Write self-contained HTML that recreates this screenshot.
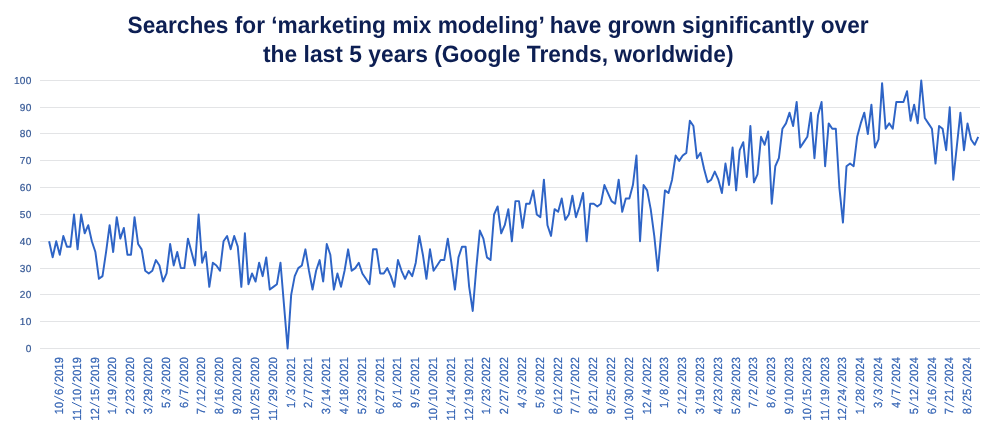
<!DOCTYPE html>
<html><head><meta charset="utf-8"><title>Chart</title>
<style>
html,body{margin:0;padding:0;background:#fff;}
body{width:1006px;height:447px;overflow:hidden;font-family:"Liberation Sans",sans-serif;}
svg{display:block;will-change:transform;}
 svg text{font-family:"Liberation Sans",sans-serif;text-rendering:geometricPrecision;}
</style></head><body>
<svg width="1006" height="447" viewBox="0 0 1006 447">
<rect width="1006" height="447" fill="#ffffff"/>
<g font-weight="bold" font-size="23.5" fill="#0d1f53">
<text x="127.6" y="32.9" textLength="741.0" lengthAdjust="spacingAndGlyphs">Searches for ‘marketing mix modeling’ have grown significantly over</text>
<text x="263.0" y="62.4" textLength="470.5" lengthAdjust="spacingAndGlyphs">the last 5 years (Google Trends, worldwide)</text>
</g>
<g fill="#e3e4e6" shape-rendering="crispEdges">
<rect x="40.0" y="348" width="940.0" height="1"/>
<rect x="40.0" y="321" width="940.0" height="1"/>
<rect x="40.0" y="294" width="940.0" height="1"/>
<rect x="40.0" y="268" width="940.0" height="1"/>
<rect x="40.0" y="241" width="940.0" height="1"/>
<rect x="40.0" y="214" width="940.0" height="1"/>
<rect x="40.0" y="187" width="940.0" height="1"/>
<rect x="40.0" y="160" width="940.0" height="1"/>
<rect x="40.0" y="133" width="940.0" height="1"/>
<rect x="40.0" y="107" width="940.0" height="1"/>
<rect x="40.0" y="80" width="940.0" height="1"/>
</g>
<g font-size="10.1" fill="#365996" text-anchor="end" letter-spacing="0.25" stroke="#365996" stroke-width="0.2">
<text x="31.5" y="352.00">0</text>
<text x="31.5" y="325.00">10</text>
<text x="31.5" y="298.00">20</text>
<text x="31.5" y="272.00">30</text>
<text x="31.5" y="245.00">40</text>
<text x="31.5" y="218.00">50</text>
<text x="31.5" y="191.00">60</text>
<text x="31.5" y="164.00">70</text>
<text x="31.5" y="137.00">80</text>
<text x="31.5" y="111.00">90</text>
<text x="31.5" y="84.00">100</text>
</g>
<polyline points="49.10,241.30 52.66,257.38 56.22,241.30 59.78,254.70 63.34,235.94 66.90,246.66 70.46,246.66 74.02,214.50 77.58,249.34 81.14,214.50 84.70,233.26 88.26,225.22 91.82,241.30 95.38,252.02 98.94,278.82 102.50,276.14 106.06,252.02 109.62,225.22 113.18,252.02 116.74,217.18 120.30,238.62 123.86,227.90 127.42,254.70 130.98,254.70 134.54,217.18 138.09,243.98 141.65,249.34 145.21,270.78 148.77,273.46 152.33,270.78 155.89,260.06 159.45,265.42 163.01,281.50 166.57,273.46 170.13,243.98 173.69,265.42 177.25,252.02 180.81,268.10 184.37,268.10 187.93,238.62 191.49,252.02 195.05,265.42 198.61,214.50 202.17,262.74 205.73,252.02 209.29,286.86 212.85,262.74 216.41,265.42 219.97,270.78 223.53,241.30 227.09,235.94 230.65,249.34 234.21,235.94 237.77,246.66 241.33,286.86 244.89,233.26 248.45,284.18 252.01,273.46 255.57,281.50 259.13,262.74 262.69,276.14 266.25,257.38 269.81,289.54 273.37,286.86 276.93,284.18 280.49,262.74 284.05,305.62 287.61,348.50 291.17,294.90 294.73,276.14 298.29,268.10 301.85,265.42 305.41,249.34 308.97,270.78 312.53,289.54 316.09,270.78 319.64,260.06 323.20,281.50 326.76,243.98 330.32,254.70 333.88,289.54 337.44,273.46 341.00,286.86 344.56,270.78 348.12,249.34 351.68,270.78 355.24,268.10 358.80,262.74 362.36,273.46 365.92,278.82 369.48,284.18 373.04,249.34 376.60,249.34 380.16,273.46 383.72,273.46 387.28,268.10 390.84,276.14 394.40,286.86 397.96,260.06 401.52,270.78 405.08,278.82 408.64,270.78 412.20,276.14 415.76,262.74 419.32,235.94 422.88,254.70 426.44,278.82 430.00,249.34 433.56,270.78 437.12,265.42 440.68,260.06 444.24,260.06 447.80,238.62 451.36,262.74 454.92,289.54 458.48,257.38 462.04,246.66 465.60,246.66 469.16,286.86 472.72,310.98 476.28,268.10 479.84,230.58 483.40,238.62 486.96,257.38 490.52,260.06 494.08,214.50 497.63,206.46 501.19,233.26 504.75,225.22 508.31,209.14 511.87,241.30 515.43,201.10 518.99,201.10 522.55,227.90 526.11,203.78 529.67,203.78 533.23,190.38 536.79,214.50 540.35,217.18 543.91,179.66 547.47,225.22 551.03,235.94 554.59,209.14 558.15,211.82 561.71,198.42 565.27,219.86 568.83,214.50 572.39,195.74 575.95,217.18 579.51,206.46 583.07,193.06 586.63,241.30 590.19,203.78 593.75,203.78 597.31,206.46 600.87,203.78 604.43,185.02 607.99,193.06 611.55,201.10 615.11,203.78 618.67,179.66 622.23,211.82 625.79,198.42 629.35,198.42 632.91,185.02 636.47,155.54 640.03,241.30 643.59,185.02 647.15,190.38 650.71,209.14 654.27,235.94 657.83,270.78 661.39,230.58 664.95,190.38 668.51,193.06 672.07,179.66 675.62,155.54 679.18,160.90 682.74,155.54 686.30,152.86 689.86,120.70 693.42,126.06 696.98,158.22 700.54,152.86 704.10,168.94 707.66,182.34 711.22,179.66 714.78,171.62 718.34,179.66 721.90,193.06 725.46,163.58 729.02,185.02 732.58,147.50 736.14,190.38 739.70,150.18 743.26,142.14 746.82,176.98 750.38,126.06 753.94,182.34 757.50,174.30 761.06,136.78 764.62,144.82 768.18,131.42 771.74,203.78 775.30,166.26 778.86,158.22 782.42,128.74 785.98,123.38 789.54,112.66 793.10,126.06 796.66,101.94 800.22,147.50 803.78,142.14 807.34,136.78 810.90,112.66 814.46,158.22 818.02,115.34 821.58,101.94 825.14,166.26 828.70,123.38 832.26,128.74 835.82,128.74 839.38,187.70 842.94,222.54 846.50,166.26 850.06,163.58 853.61,166.26 857.17,136.78 860.73,123.38 864.29,112.66 867.85,134.10 871.41,104.62 874.97,147.50 878.53,139.46 882.09,83.18 885.65,128.74 889.21,123.38 892.77,128.74 896.33,101.94 899.89,101.94 903.45,101.94 907.01,91.22 910.57,120.70 914.13,104.62 917.69,123.38 921.25,80.50 924.81,118.02 928.37,123.38 931.93,128.74 935.49,163.58 939.05,126.06 942.61,128.74 946.17,150.18 949.73,107.30 953.29,179.66 956.85,146.16 960.41,112.66 963.97,150.18 967.53,123.38 971.09,139.46 974.65,144.82 978.21,136.78" fill="none" stroke="#2e64c6" stroke-width="1.95" stroke-linejoin="round" stroke-linecap="butt"/>
<g font-size="11.0" fill="#3464b4" stroke="#3464b4" stroke-width="0.2" letter-spacing="0.132">
<g transform="translate(63.05,357.1) rotate(-90)"><text transform="translate(-57.08,0) scale(1.0,1.07)" x="0" y="0">10</text><line x1="-43.65" y1="0.9" x2="-38.95" y2="-8.9" stroke-width="1.0" stroke-linecap="butt"/><text transform="translate(-37.88,0) scale(1.0,1.07)" x="0" y="0">6</text><line x1="-30.70" y1="0.9" x2="-26.00" y2="-8.9" stroke-width="1.0" stroke-linecap="butt"/><text transform="translate(-24.93,0) scale(1.0,1.07)" x="0" y="0">2019</text></g>
<g transform="translate(80.86,357.1) rotate(-90)"><text transform="translate(-63.33,0) scale(1.0,1.07)" x="0" y="0">11</text><line x1="-49.90" y1="0.9" x2="-45.20" y2="-8.9" stroke-width="1.0" stroke-linecap="butt"/><text transform="translate(-44.13,0) scale(1.0,1.07)" x="0" y="0">10</text><line x1="-30.70" y1="0.9" x2="-26.00" y2="-8.9" stroke-width="1.0" stroke-linecap="butt"/><text transform="translate(-24.93,0) scale(1.0,1.07)" x="0" y="0">2019</text></g>
<g transform="translate(98.66,357.1) rotate(-90)"><text transform="translate(-63.33,0) scale(1.0,1.07)" x="0" y="0">12</text><line x1="-49.90" y1="0.9" x2="-45.20" y2="-8.9" stroke-width="1.0" stroke-linecap="butt"/><text transform="translate(-44.13,0) scale(1.0,1.07)" x="0" y="0">15</text><line x1="-30.70" y1="0.9" x2="-26.00" y2="-8.9" stroke-width="1.0" stroke-linecap="butt"/><text transform="translate(-24.93,0) scale(1.0,1.07)" x="0" y="0">2019</text></g>
<g transform="translate(116.47,357.1) rotate(-90)"><text transform="translate(-57.08,0) scale(1.0,1.07)" x="0" y="0">1</text><line x1="-49.90" y1="0.9" x2="-45.20" y2="-8.9" stroke-width="1.0" stroke-linecap="butt"/><text transform="translate(-44.13,0) scale(1.0,1.07)" x="0" y="0">19</text><line x1="-30.70" y1="0.9" x2="-26.00" y2="-8.9" stroke-width="1.0" stroke-linecap="butt"/><text transform="translate(-24.93,0) scale(1.0,1.07)" x="0" y="0">2020</text></g>
<g transform="translate(134.27,357.1) rotate(-90)"><text transform="translate(-57.08,0) scale(1.0,1.07)" x="0" y="0">2</text><line x1="-49.90" y1="0.9" x2="-45.20" y2="-8.9" stroke-width="1.0" stroke-linecap="butt"/><text transform="translate(-44.13,0) scale(1.0,1.07)" x="0" y="0">23</text><line x1="-30.70" y1="0.9" x2="-26.00" y2="-8.9" stroke-width="1.0" stroke-linecap="butt"/><text transform="translate(-24.93,0) scale(1.0,1.07)" x="0" y="0">2020</text></g>
<g transform="translate(152.07,357.1) rotate(-90)"><text transform="translate(-57.08,0) scale(1.0,1.07)" x="0" y="0">3</text><line x1="-49.90" y1="0.9" x2="-45.20" y2="-8.9" stroke-width="1.0" stroke-linecap="butt"/><text transform="translate(-44.13,0) scale(1.0,1.07)" x="0" y="0">29</text><line x1="-30.70" y1="0.9" x2="-26.00" y2="-8.9" stroke-width="1.0" stroke-linecap="butt"/><text transform="translate(-24.93,0) scale(1.0,1.07)" x="0" y="0">2020</text></g>
<g transform="translate(169.88,357.1) rotate(-90)"><text transform="translate(-50.83,0) scale(1.0,1.07)" x="0" y="0">5</text><line x1="-43.65" y1="0.9" x2="-38.95" y2="-8.9" stroke-width="1.0" stroke-linecap="butt"/><text transform="translate(-37.88,0) scale(1.0,1.07)" x="0" y="0">3</text><line x1="-30.70" y1="0.9" x2="-26.00" y2="-8.9" stroke-width="1.0" stroke-linecap="butt"/><text transform="translate(-24.93,0) scale(1.0,1.07)" x="0" y="0">2020</text></g>
<g transform="translate(187.68,357.1) rotate(-90)"><text transform="translate(-50.83,0) scale(1.0,1.07)" x="0" y="0">6</text><line x1="-43.65" y1="0.9" x2="-38.95" y2="-8.9" stroke-width="1.0" stroke-linecap="butt"/><text transform="translate(-37.88,0) scale(1.0,1.07)" x="0" y="0">7</text><line x1="-30.70" y1="0.9" x2="-26.00" y2="-8.9" stroke-width="1.0" stroke-linecap="butt"/><text transform="translate(-24.93,0) scale(1.0,1.07)" x="0" y="0">2020</text></g>
<g transform="translate(205.49,357.1) rotate(-90)"><text transform="translate(-57.08,0) scale(1.0,1.07)" x="0" y="0">7</text><line x1="-49.90" y1="0.9" x2="-45.20" y2="-8.9" stroke-width="1.0" stroke-linecap="butt"/><text transform="translate(-44.13,0) scale(1.0,1.07)" x="0" y="0">12</text><line x1="-30.70" y1="0.9" x2="-26.00" y2="-8.9" stroke-width="1.0" stroke-linecap="butt"/><text transform="translate(-24.93,0) scale(1.0,1.07)" x="0" y="0">2020</text></g>
<g transform="translate(223.29,357.1) rotate(-90)"><text transform="translate(-57.08,0) scale(1.0,1.07)" x="0" y="0">8</text><line x1="-49.90" y1="0.9" x2="-45.20" y2="-8.9" stroke-width="1.0" stroke-linecap="butt"/><text transform="translate(-44.13,0) scale(1.0,1.07)" x="0" y="0">16</text><line x1="-30.70" y1="0.9" x2="-26.00" y2="-8.9" stroke-width="1.0" stroke-linecap="butt"/><text transform="translate(-24.93,0) scale(1.0,1.07)" x="0" y="0">2020</text></g>
<g transform="translate(241.10,357.1) rotate(-90)"><text transform="translate(-57.08,0) scale(1.0,1.07)" x="0" y="0">9</text><line x1="-49.90" y1="0.9" x2="-45.20" y2="-8.9" stroke-width="1.0" stroke-linecap="butt"/><text transform="translate(-44.13,0) scale(1.0,1.07)" x="0" y="0">20</text><line x1="-30.70" y1="0.9" x2="-26.00" y2="-8.9" stroke-width="1.0" stroke-linecap="butt"/><text transform="translate(-24.93,0) scale(1.0,1.07)" x="0" y="0">2020</text></g>
<g transform="translate(258.90,357.1) rotate(-90)"><text transform="translate(-63.33,0) scale(1.0,1.07)" x="0" y="0">10</text><line x1="-49.90" y1="0.9" x2="-45.20" y2="-8.9" stroke-width="1.0" stroke-linecap="butt"/><text transform="translate(-44.13,0) scale(1.0,1.07)" x="0" y="0">25</text><line x1="-30.70" y1="0.9" x2="-26.00" y2="-8.9" stroke-width="1.0" stroke-linecap="butt"/><text transform="translate(-24.93,0) scale(1.0,1.07)" x="0" y="0">2020</text></g>
<g transform="translate(276.71,357.1) rotate(-90)"><text transform="translate(-63.33,0) scale(1.0,1.07)" x="0" y="0">11</text><line x1="-49.90" y1="0.9" x2="-45.20" y2="-8.9" stroke-width="1.0" stroke-linecap="butt"/><text transform="translate(-44.13,0) scale(1.0,1.07)" x="0" y="0">29</text><line x1="-30.70" y1="0.9" x2="-26.00" y2="-8.9" stroke-width="1.0" stroke-linecap="butt"/><text transform="translate(-24.93,0) scale(1.0,1.07)" x="0" y="0">2020</text></g>
<g transform="translate(294.51,357.1) rotate(-90)"><text transform="translate(-50.83,0) scale(1.0,1.07)" x="0" y="0">1</text><line x1="-43.65" y1="0.9" x2="-38.95" y2="-8.9" stroke-width="1.0" stroke-linecap="butt"/><text transform="translate(-37.88,0) scale(1.0,1.07)" x="0" y="0">3</text><line x1="-30.70" y1="0.9" x2="-26.00" y2="-8.9" stroke-width="1.0" stroke-linecap="butt"/><text transform="translate(-24.93,0) scale(1.0,1.07)" x="0" y="0">2021</text></g>
<g transform="translate(312.32,357.1) rotate(-90)"><text transform="translate(-50.83,0) scale(1.0,1.07)" x="0" y="0">2</text><line x1="-43.65" y1="0.9" x2="-38.95" y2="-8.9" stroke-width="1.0" stroke-linecap="butt"/><text transform="translate(-37.88,0) scale(1.0,1.07)" x="0" y="0">7</text><line x1="-30.70" y1="0.9" x2="-26.00" y2="-8.9" stroke-width="1.0" stroke-linecap="butt"/><text transform="translate(-24.93,0) scale(1.0,1.07)" x="0" y="0">2021</text></g>
<g transform="translate(330.12,357.1) rotate(-90)"><text transform="translate(-57.08,0) scale(1.0,1.07)" x="0" y="0">3</text><line x1="-49.90" y1="0.9" x2="-45.20" y2="-8.9" stroke-width="1.0" stroke-linecap="butt"/><text transform="translate(-44.13,0) scale(1.0,1.07)" x="0" y="0">14</text><line x1="-30.70" y1="0.9" x2="-26.00" y2="-8.9" stroke-width="1.0" stroke-linecap="butt"/><text transform="translate(-24.93,0) scale(1.0,1.07)" x="0" y="0">2021</text></g>
<g transform="translate(347.93,357.1) rotate(-90)"><text transform="translate(-57.08,0) scale(1.0,1.07)" x="0" y="0">4</text><line x1="-49.90" y1="0.9" x2="-45.20" y2="-8.9" stroke-width="1.0" stroke-linecap="butt"/><text transform="translate(-44.13,0) scale(1.0,1.07)" x="0" y="0">18</text><line x1="-30.70" y1="0.9" x2="-26.00" y2="-8.9" stroke-width="1.0" stroke-linecap="butt"/><text transform="translate(-24.93,0) scale(1.0,1.07)" x="0" y="0">2021</text></g>
<g transform="translate(365.74,357.1) rotate(-90)"><text transform="translate(-57.08,0) scale(1.0,1.07)" x="0" y="0">5</text><line x1="-49.90" y1="0.9" x2="-45.20" y2="-8.9" stroke-width="1.0" stroke-linecap="butt"/><text transform="translate(-44.13,0) scale(1.0,1.07)" x="0" y="0">23</text><line x1="-30.70" y1="0.9" x2="-26.00" y2="-8.9" stroke-width="1.0" stroke-linecap="butt"/><text transform="translate(-24.93,0) scale(1.0,1.07)" x="0" y="0">2021</text></g>
<g transform="translate(383.54,357.1) rotate(-90)"><text transform="translate(-57.08,0) scale(1.0,1.07)" x="0" y="0">6</text><line x1="-49.90" y1="0.9" x2="-45.20" y2="-8.9" stroke-width="1.0" stroke-linecap="butt"/><text transform="translate(-44.13,0) scale(1.0,1.07)" x="0" y="0">27</text><line x1="-30.70" y1="0.9" x2="-26.00" y2="-8.9" stroke-width="1.0" stroke-linecap="butt"/><text transform="translate(-24.93,0) scale(1.0,1.07)" x="0" y="0">2021</text></g>
<g transform="translate(401.35,357.1) rotate(-90)"><text transform="translate(-50.83,0) scale(1.0,1.07)" x="0" y="0">8</text><line x1="-43.65" y1="0.9" x2="-38.95" y2="-8.9" stroke-width="1.0" stroke-linecap="butt"/><text transform="translate(-37.88,0) scale(1.0,1.07)" x="0" y="0">1</text><line x1="-30.70" y1="0.9" x2="-26.00" y2="-8.9" stroke-width="1.0" stroke-linecap="butt"/><text transform="translate(-24.93,0) scale(1.0,1.07)" x="0" y="0">2021</text></g>
<g transform="translate(419.15,357.1) rotate(-90)"><text transform="translate(-50.83,0) scale(1.0,1.07)" x="0" y="0">9</text><line x1="-43.65" y1="0.9" x2="-38.95" y2="-8.9" stroke-width="1.0" stroke-linecap="butt"/><text transform="translate(-37.88,0) scale(1.0,1.07)" x="0" y="0">5</text><line x1="-30.70" y1="0.9" x2="-26.00" y2="-8.9" stroke-width="1.0" stroke-linecap="butt"/><text transform="translate(-24.93,0) scale(1.0,1.07)" x="0" y="0">2021</text></g>
<g transform="translate(436.95,357.1) rotate(-90)"><text transform="translate(-63.33,0) scale(1.0,1.07)" x="0" y="0">10</text><line x1="-49.90" y1="0.9" x2="-45.20" y2="-8.9" stroke-width="1.0" stroke-linecap="butt"/><text transform="translate(-44.13,0) scale(1.0,1.07)" x="0" y="0">10</text><line x1="-30.70" y1="0.9" x2="-26.00" y2="-8.9" stroke-width="1.0" stroke-linecap="butt"/><text transform="translate(-24.93,0) scale(1.0,1.07)" x="0" y="0">2021</text></g>
<g transform="translate(454.76,357.1) rotate(-90)"><text transform="translate(-63.33,0) scale(1.0,1.07)" x="0" y="0">11</text><line x1="-49.90" y1="0.9" x2="-45.20" y2="-8.9" stroke-width="1.0" stroke-linecap="butt"/><text transform="translate(-44.13,0) scale(1.0,1.07)" x="0" y="0">14</text><line x1="-30.70" y1="0.9" x2="-26.00" y2="-8.9" stroke-width="1.0" stroke-linecap="butt"/><text transform="translate(-24.93,0) scale(1.0,1.07)" x="0" y="0">2021</text></g>
<g transform="translate(472.56,357.1) rotate(-90)"><text transform="translate(-63.33,0) scale(1.0,1.07)" x="0" y="0">12</text><line x1="-49.90" y1="0.9" x2="-45.20" y2="-8.9" stroke-width="1.0" stroke-linecap="butt"/><text transform="translate(-44.13,0) scale(1.0,1.07)" x="0" y="0">19</text><line x1="-30.70" y1="0.9" x2="-26.00" y2="-8.9" stroke-width="1.0" stroke-linecap="butt"/><text transform="translate(-24.93,0) scale(1.0,1.07)" x="0" y="0">2021</text></g>
<g transform="translate(490.37,357.1) rotate(-90)"><text transform="translate(-57.08,0) scale(1.0,1.07)" x="0" y="0">1</text><line x1="-49.90" y1="0.9" x2="-45.20" y2="-8.9" stroke-width="1.0" stroke-linecap="butt"/><text transform="translate(-44.13,0) scale(1.0,1.07)" x="0" y="0">23</text><line x1="-30.70" y1="0.9" x2="-26.00" y2="-8.9" stroke-width="1.0" stroke-linecap="butt"/><text transform="translate(-24.93,0) scale(1.0,1.07)" x="0" y="0">2022</text></g>
<g transform="translate(508.18,357.1) rotate(-90)"><text transform="translate(-57.08,0) scale(1.0,1.07)" x="0" y="0">2</text><line x1="-49.90" y1="0.9" x2="-45.20" y2="-8.9" stroke-width="1.0" stroke-linecap="butt"/><text transform="translate(-44.13,0) scale(1.0,1.07)" x="0" y="0">27</text><line x1="-30.70" y1="0.9" x2="-26.00" y2="-8.9" stroke-width="1.0" stroke-linecap="butt"/><text transform="translate(-24.93,0) scale(1.0,1.07)" x="0" y="0">2022</text></g>
<g transform="translate(525.98,357.1) rotate(-90)"><text transform="translate(-50.83,0) scale(1.0,1.07)" x="0" y="0">4</text><line x1="-43.65" y1="0.9" x2="-38.95" y2="-8.9" stroke-width="1.0" stroke-linecap="butt"/><text transform="translate(-37.88,0) scale(1.0,1.07)" x="0" y="0">3</text><line x1="-30.70" y1="0.9" x2="-26.00" y2="-8.9" stroke-width="1.0" stroke-linecap="butt"/><text transform="translate(-24.93,0) scale(1.0,1.07)" x="0" y="0">2022</text></g>
<g transform="translate(543.79,357.1) rotate(-90)"><text transform="translate(-50.83,0) scale(1.0,1.07)" x="0" y="0">5</text><line x1="-43.65" y1="0.9" x2="-38.95" y2="-8.9" stroke-width="1.0" stroke-linecap="butt"/><text transform="translate(-37.88,0) scale(1.0,1.07)" x="0" y="0">8</text><line x1="-30.70" y1="0.9" x2="-26.00" y2="-8.9" stroke-width="1.0" stroke-linecap="butt"/><text transform="translate(-24.93,0) scale(1.0,1.07)" x="0" y="0">2022</text></g>
<g transform="translate(561.59,357.1) rotate(-90)"><text transform="translate(-57.08,0) scale(1.0,1.07)" x="0" y="0">6</text><line x1="-49.90" y1="0.9" x2="-45.20" y2="-8.9" stroke-width="1.0" stroke-linecap="butt"/><text transform="translate(-44.13,0) scale(1.0,1.07)" x="0" y="0">12</text><line x1="-30.70" y1="0.9" x2="-26.00" y2="-8.9" stroke-width="1.0" stroke-linecap="butt"/><text transform="translate(-24.93,0) scale(1.0,1.07)" x="0" y="0">2022</text></g>
<g transform="translate(579.40,357.1) rotate(-90)"><text transform="translate(-57.08,0) scale(1.0,1.07)" x="0" y="0">7</text><line x1="-49.90" y1="0.9" x2="-45.20" y2="-8.9" stroke-width="1.0" stroke-linecap="butt"/><text transform="translate(-44.13,0) scale(1.0,1.07)" x="0" y="0">17</text><line x1="-30.70" y1="0.9" x2="-26.00" y2="-8.9" stroke-width="1.0" stroke-linecap="butt"/><text transform="translate(-24.93,0) scale(1.0,1.07)" x="0" y="0">2022</text></g>
<g transform="translate(597.20,357.1) rotate(-90)"><text transform="translate(-57.08,0) scale(1.0,1.07)" x="0" y="0">8</text><line x1="-49.90" y1="0.9" x2="-45.20" y2="-8.9" stroke-width="1.0" stroke-linecap="butt"/><text transform="translate(-44.13,0) scale(1.0,1.07)" x="0" y="0">21</text><line x1="-30.70" y1="0.9" x2="-26.00" y2="-8.9" stroke-width="1.0" stroke-linecap="butt"/><text transform="translate(-24.93,0) scale(1.0,1.07)" x="0" y="0">2022</text></g>
<g transform="translate(615.01,357.1) rotate(-90)"><text transform="translate(-57.08,0) scale(1.0,1.07)" x="0" y="0">9</text><line x1="-49.90" y1="0.9" x2="-45.20" y2="-8.9" stroke-width="1.0" stroke-linecap="butt"/><text transform="translate(-44.13,0) scale(1.0,1.07)" x="0" y="0">25</text><line x1="-30.70" y1="0.9" x2="-26.00" y2="-8.9" stroke-width="1.0" stroke-linecap="butt"/><text transform="translate(-24.93,0) scale(1.0,1.07)" x="0" y="0">2022</text></g>
<g transform="translate(632.81,357.1) rotate(-90)"><text transform="translate(-63.33,0) scale(1.0,1.07)" x="0" y="0">10</text><line x1="-49.90" y1="0.9" x2="-45.20" y2="-8.9" stroke-width="1.0" stroke-linecap="butt"/><text transform="translate(-44.13,0) scale(1.0,1.07)" x="0" y="0">30</text><line x1="-30.70" y1="0.9" x2="-26.00" y2="-8.9" stroke-width="1.0" stroke-linecap="butt"/><text transform="translate(-24.93,0) scale(1.0,1.07)" x="0" y="0">2022</text></g>
<g transform="translate(650.62,357.1) rotate(-90)"><text transform="translate(-57.08,0) scale(1.0,1.07)" x="0" y="0">12</text><line x1="-43.65" y1="0.9" x2="-38.95" y2="-8.9" stroke-width="1.0" stroke-linecap="butt"/><text transform="translate(-37.88,0) scale(1.0,1.07)" x="0" y="0">4</text><line x1="-30.70" y1="0.9" x2="-26.00" y2="-8.9" stroke-width="1.0" stroke-linecap="butt"/><text transform="translate(-24.93,0) scale(1.0,1.07)" x="0" y="0">2022</text></g>
<g transform="translate(668.42,357.1) rotate(-90)"><text transform="translate(-50.83,0) scale(1.0,1.07)" x="0" y="0">1</text><line x1="-43.65" y1="0.9" x2="-38.95" y2="-8.9" stroke-width="1.0" stroke-linecap="butt"/><text transform="translate(-37.88,0) scale(1.0,1.07)" x="0" y="0">8</text><line x1="-30.70" y1="0.9" x2="-26.00" y2="-8.9" stroke-width="1.0" stroke-linecap="butt"/><text transform="translate(-24.93,0) scale(1.0,1.07)" x="0" y="0">2023</text></g>
<g transform="translate(686.23,357.1) rotate(-90)"><text transform="translate(-57.08,0) scale(1.0,1.07)" x="0" y="0">2</text><line x1="-49.90" y1="0.9" x2="-45.20" y2="-8.9" stroke-width="1.0" stroke-linecap="butt"/><text transform="translate(-44.13,0) scale(1.0,1.07)" x="0" y="0">12</text><line x1="-30.70" y1="0.9" x2="-26.00" y2="-8.9" stroke-width="1.0" stroke-linecap="butt"/><text transform="translate(-24.93,0) scale(1.0,1.07)" x="0" y="0">2023</text></g>
<g transform="translate(704.03,357.1) rotate(-90)"><text transform="translate(-57.08,0) scale(1.0,1.07)" x="0" y="0">3</text><line x1="-49.90" y1="0.9" x2="-45.20" y2="-8.9" stroke-width="1.0" stroke-linecap="butt"/><text transform="translate(-44.13,0) scale(1.0,1.07)" x="0" y="0">19</text><line x1="-30.70" y1="0.9" x2="-26.00" y2="-8.9" stroke-width="1.0" stroke-linecap="butt"/><text transform="translate(-24.93,0) scale(1.0,1.07)" x="0" y="0">2023</text></g>
<g transform="translate(721.84,357.1) rotate(-90)"><text transform="translate(-57.08,0) scale(1.0,1.07)" x="0" y="0">4</text><line x1="-49.90" y1="0.9" x2="-45.20" y2="-8.9" stroke-width="1.0" stroke-linecap="butt"/><text transform="translate(-44.13,0) scale(1.0,1.07)" x="0" y="0">23</text><line x1="-30.70" y1="0.9" x2="-26.00" y2="-8.9" stroke-width="1.0" stroke-linecap="butt"/><text transform="translate(-24.93,0) scale(1.0,1.07)" x="0" y="0">2023</text></g>
<g transform="translate(739.64,357.1) rotate(-90)"><text transform="translate(-57.08,0) scale(1.0,1.07)" x="0" y="0">5</text><line x1="-49.90" y1="0.9" x2="-45.20" y2="-8.9" stroke-width="1.0" stroke-linecap="butt"/><text transform="translate(-44.13,0) scale(1.0,1.07)" x="0" y="0">28</text><line x1="-30.70" y1="0.9" x2="-26.00" y2="-8.9" stroke-width="1.0" stroke-linecap="butt"/><text transform="translate(-24.93,0) scale(1.0,1.07)" x="0" y="0">2023</text></g>
<g transform="translate(757.45,357.1) rotate(-90)"><text transform="translate(-50.83,0) scale(1.0,1.07)" x="0" y="0">7</text><line x1="-43.65" y1="0.9" x2="-38.95" y2="-8.9" stroke-width="1.0" stroke-linecap="butt"/><text transform="translate(-37.88,0) scale(1.0,1.07)" x="0" y="0">2</text><line x1="-30.70" y1="0.9" x2="-26.00" y2="-8.9" stroke-width="1.0" stroke-linecap="butt"/><text transform="translate(-24.93,0) scale(1.0,1.07)" x="0" y="0">2023</text></g>
<g transform="translate(775.25,357.1) rotate(-90)"><text transform="translate(-50.83,0) scale(1.0,1.07)" x="0" y="0">8</text><line x1="-43.65" y1="0.9" x2="-38.95" y2="-8.9" stroke-width="1.0" stroke-linecap="butt"/><text transform="translate(-37.88,0) scale(1.0,1.07)" x="0" y="0">6</text><line x1="-30.70" y1="0.9" x2="-26.00" y2="-8.9" stroke-width="1.0" stroke-linecap="butt"/><text transform="translate(-24.93,0) scale(1.0,1.07)" x="0" y="0">2023</text></g>
<g transform="translate(793.06,357.1) rotate(-90)"><text transform="translate(-57.08,0) scale(1.0,1.07)" x="0" y="0">9</text><line x1="-49.90" y1="0.9" x2="-45.20" y2="-8.9" stroke-width="1.0" stroke-linecap="butt"/><text transform="translate(-44.13,0) scale(1.0,1.07)" x="0" y="0">10</text><line x1="-30.70" y1="0.9" x2="-26.00" y2="-8.9" stroke-width="1.0" stroke-linecap="butt"/><text transform="translate(-24.93,0) scale(1.0,1.07)" x="0" y="0">2023</text></g>
<g transform="translate(810.86,357.1) rotate(-90)"><text transform="translate(-63.33,0) scale(1.0,1.07)" x="0" y="0">10</text><line x1="-49.90" y1="0.9" x2="-45.20" y2="-8.9" stroke-width="1.0" stroke-linecap="butt"/><text transform="translate(-44.13,0) scale(1.0,1.07)" x="0" y="0">15</text><line x1="-30.70" y1="0.9" x2="-26.00" y2="-8.9" stroke-width="1.0" stroke-linecap="butt"/><text transform="translate(-24.93,0) scale(1.0,1.07)" x="0" y="0">2023</text></g>
<g transform="translate(828.67,357.1) rotate(-90)"><text transform="translate(-63.33,0) scale(1.0,1.07)" x="0" y="0">11</text><line x1="-49.90" y1="0.9" x2="-45.20" y2="-8.9" stroke-width="1.0" stroke-linecap="butt"/><text transform="translate(-44.13,0) scale(1.0,1.07)" x="0" y="0">19</text><line x1="-30.70" y1="0.9" x2="-26.00" y2="-8.9" stroke-width="1.0" stroke-linecap="butt"/><text transform="translate(-24.93,0) scale(1.0,1.07)" x="0" y="0">2023</text></g>
<g transform="translate(846.47,357.1) rotate(-90)"><text transform="translate(-63.33,0) scale(1.0,1.07)" x="0" y="0">12</text><line x1="-49.90" y1="0.9" x2="-45.20" y2="-8.9" stroke-width="1.0" stroke-linecap="butt"/><text transform="translate(-44.13,0) scale(1.0,1.07)" x="0" y="0">24</text><line x1="-30.70" y1="0.9" x2="-26.00" y2="-8.9" stroke-width="1.0" stroke-linecap="butt"/><text transform="translate(-24.93,0) scale(1.0,1.07)" x="0" y="0">2023</text></g>
<g transform="translate(864.28,357.1) rotate(-90)"><text transform="translate(-57.08,0) scale(1.0,1.07)" x="0" y="0">1</text><line x1="-49.90" y1="0.9" x2="-45.20" y2="-8.9" stroke-width="1.0" stroke-linecap="butt"/><text transform="translate(-44.13,0) scale(1.0,1.07)" x="0" y="0">28</text><line x1="-30.70" y1="0.9" x2="-26.00" y2="-8.9" stroke-width="1.0" stroke-linecap="butt"/><text transform="translate(-24.93,0) scale(1.0,1.07)" x="0" y="0">2024</text></g>
<g transform="translate(882.08,357.1) rotate(-90)"><text transform="translate(-50.83,0) scale(1.0,1.07)" x="0" y="0">3</text><line x1="-43.65" y1="0.9" x2="-38.95" y2="-8.9" stroke-width="1.0" stroke-linecap="butt"/><text transform="translate(-37.88,0) scale(1.0,1.07)" x="0" y="0">3</text><line x1="-30.70" y1="0.9" x2="-26.00" y2="-8.9" stroke-width="1.0" stroke-linecap="butt"/><text transform="translate(-24.93,0) scale(1.0,1.07)" x="0" y="0">2024</text></g>
<g transform="translate(899.89,357.1) rotate(-90)"><text transform="translate(-50.83,0) scale(1.0,1.07)" x="0" y="0">4</text><line x1="-43.65" y1="0.9" x2="-38.95" y2="-8.9" stroke-width="1.0" stroke-linecap="butt"/><text transform="translate(-37.88,0) scale(1.0,1.07)" x="0" y="0">7</text><line x1="-30.70" y1="0.9" x2="-26.00" y2="-8.9" stroke-width="1.0" stroke-linecap="butt"/><text transform="translate(-24.93,0) scale(1.0,1.07)" x="0" y="0">2024</text></g>
<g transform="translate(917.69,357.1) rotate(-90)"><text transform="translate(-57.08,0) scale(1.0,1.07)" x="0" y="0">5</text><line x1="-49.90" y1="0.9" x2="-45.20" y2="-8.9" stroke-width="1.0" stroke-linecap="butt"/><text transform="translate(-44.13,0) scale(1.0,1.07)" x="0" y="0">12</text><line x1="-30.70" y1="0.9" x2="-26.00" y2="-8.9" stroke-width="1.0" stroke-linecap="butt"/><text transform="translate(-24.93,0) scale(1.0,1.07)" x="0" y="0">2024</text></g>
<g transform="translate(935.50,357.1) rotate(-90)"><text transform="translate(-57.08,0) scale(1.0,1.07)" x="0" y="0">6</text><line x1="-49.90" y1="0.9" x2="-45.20" y2="-8.9" stroke-width="1.0" stroke-linecap="butt"/><text transform="translate(-44.13,0) scale(1.0,1.07)" x="0" y="0">16</text><line x1="-30.70" y1="0.9" x2="-26.00" y2="-8.9" stroke-width="1.0" stroke-linecap="butt"/><text transform="translate(-24.93,0) scale(1.0,1.07)" x="0" y="0">2024</text></g>
<g transform="translate(953.30,357.1) rotate(-90)"><text transform="translate(-57.08,0) scale(1.0,1.07)" x="0" y="0">7</text><line x1="-49.90" y1="0.9" x2="-45.20" y2="-8.9" stroke-width="1.0" stroke-linecap="butt"/><text transform="translate(-44.13,0) scale(1.0,1.07)" x="0" y="0">21</text><line x1="-30.70" y1="0.9" x2="-26.00" y2="-8.9" stroke-width="1.0" stroke-linecap="butt"/><text transform="translate(-24.93,0) scale(1.0,1.07)" x="0" y="0">2024</text></g>
<g transform="translate(971.11,357.1) rotate(-90)"><text transform="translate(-57.08,0) scale(1.0,1.07)" x="0" y="0">8</text><line x1="-49.90" y1="0.9" x2="-45.20" y2="-8.9" stroke-width="1.0" stroke-linecap="butt"/><text transform="translate(-44.13,0) scale(1.0,1.07)" x="0" y="0">25</text><line x1="-30.70" y1="0.9" x2="-26.00" y2="-8.9" stroke-width="1.0" stroke-linecap="butt"/><text transform="translate(-24.93,0) scale(1.0,1.07)" x="0" y="0">2024</text></g>
</g>
</svg>
</body></html>
